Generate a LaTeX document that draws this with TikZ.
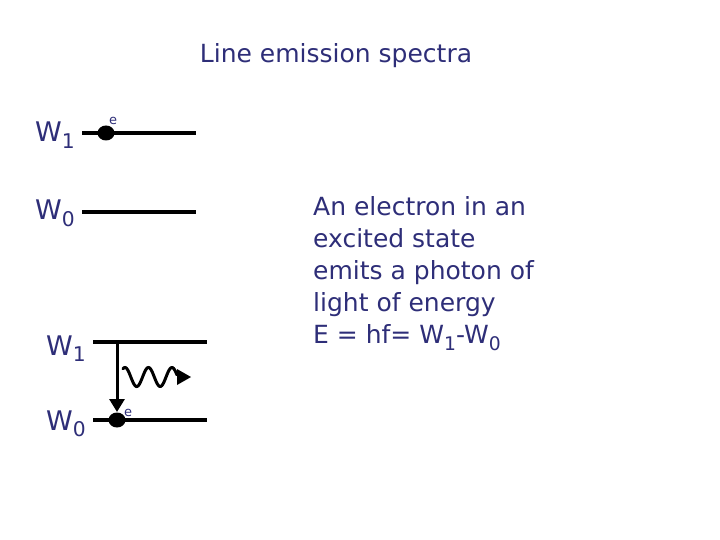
\documentclass[tikz,border=0pt]{standalone}
\usepackage{fontspec}
\setmainfont{DejaVu Sans}
\usetikzlibrary{arrows.meta,shapes.geometric}
\definecolor{navy}{RGB}{46,46,120}
\newcommand{\lowidx}[1]{\raisebox{-0.45ex}{\fontsize{0.75em}{0.75em}\selectfont #1}}
\begin{document}
\begin{tikzpicture}[x=1pt,y=-1pt,
  lbl/.style={text=navy,inner sep=0pt,anchor=base west,font=\fontsize{27}{30}\selectfont},
  body/.style={text=navy,inner sep=0pt,anchor=north west,align=left,font=\fontsize{25}{32.2}\selectfont},
  level/.style={line width=3.6pt},
  electron/.style={ellipse,fill=black,inner sep=0pt,minimum width=17pt,minimum height=15pt},
  elabel/.style={text=navy,inner sep=0pt,font=\fontsize{13}{14}\selectfont}]
\useasboundingbox (0,0) rectangle (720,540);
% title
\node[text=navy,inner sep=0pt,anchor=base,font=\fontsize{25}{30}\selectfont] (title) at (336,63) {Line emission spectra};
% upper diagram
\node[lbl] (w1a) at (35,142) {W\lowidx{1}};
\node[lbl] (w0a) at (35,220) {W\lowidx{0}};
\coordinate (a1l) at (82,133); \coordinate (a1r) at (196,133);
\coordinate (a0l) at (82,212); \coordinate (a0r) at (196,212);
\draw[level] (a1l) -- (a1r);
\draw[level] (a0l) -- (a0r);
\node[electron] (ea) at (106,133) {};
\node[elabel] (eal) at (113,121) {e};
% lower diagram
\node[lbl] (w1b) at (46,355) {W\lowidx{1}};
\node[lbl] (w0b) at (46,430) {W\lowidx{0}};
\coordinate (b1l) at (93,342); \coordinate (b1r) at (207,342);
\coordinate (b0l) at (93,420); \coordinate (b0r) at (207,420);
\draw[level] (b1l) -- (b1r);
\draw[level] (b0l) -- (b0r);
\node[electron] (eb) at (117,420) {};
\node[elabel] (ebl) at (128,413) {e};
\coordinate (top) at (117,342);
\coordinate (tip) at (117,412);
\draw[line width=3pt,-{Triangle[length=13pt,width=15pt]}] (top) -- (tip);
% photon wave
\draw[line width=3pt,line cap=round] plot[domain=0:1,samples=80,smooth] ({123+54*\x},{377-9.5*sin(2.3*360*\x+60)});
\fill (177,369) -- (191,377) -- (177,385) -- cycle;
% description
\node[body] (desc) at (313,196) {An electron in an\\excited state\\emits a photon of\\light of energy\\E = hf= W\lowidx{1}-W\lowidx{0}};
\end{tikzpicture}
\end{document}
